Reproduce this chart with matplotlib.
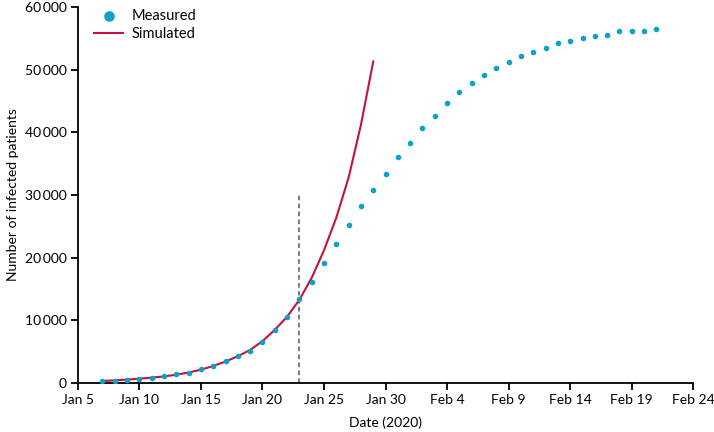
#Imports
import numpy as np
import matplotlib
matplotlib.use('Agg')
import matplotlib.pyplot as plt
import matplotlib.dates as mdates
from matplotlib.ticker import FuncFormatter

plt.rcParams['font.family'] = ['Lato', 'DejaVu Sans']

# measured cases, one per day from Jan 7 to Feb 21
measuredStart = '2020-01-07'
measured = [300, 400, 500, 700, 900, 1100, 1400, 1700, 2200, 2700,
            3500, 4300, 5200, 6600, 8500, 10600, 13400, 16200, 19100, 22200,
            25200, 28200, 30800, 33400, 36000, 38300, 40700, 42600, 44600, 46400,
            47900, 49100, 50200, 51200, 52200, 52800, 53500, 54200, 54600, 55000,
            55300, 55600, 56100, 56200, 56200, 56400]

# simulated cases, one per day from Jan 7 to Jan 29
simulatedStart = '2020-01-07'
simulated = [350, 450, 580, 720, 880, 1080, 1350, 1700, 2150, 2750,
             3450, 4300, 5300, 6700, 8500, 10600, 13300, 16800, 21200, 26400,
             32800, 41200, 51300]

cutoffDate = '2020-01-23'
cutoffTop = 30000

tickDates = ['Jan 5', 'Jan 10', 'Jan 15', 'Jan 20', 'Jan 25', 'Jan 30',
             'Feb 4', 'Feb 9', 'Feb 14', 'Feb 19', 'Feb 24']

mDates = np.datetime64(measuredStart) + np.arange(len(measured))
sDates = np.datetime64(simulatedStart) + np.arange(len(simulated))
tickPos = np.datetime64('2020-01-05') + np.arange(0, 51, 5)

fig = plt.figure(figsize=(7.14, 4.32), dpi=100)
ax = fig.add_axes([0.109, 0.113, 0.862, 0.871])

ax.plot(sDates, simulated, color='#c4123f', lw=1.5, label='Simulated', zorder=2)
ax.scatter(mDates, measured, s=16, color='#0aa2c7', label='Measured', zorder=3, linewidths=0)
ax.plot([np.datetime64(cutoffDate)] * 2, [0, cutoffTop], color='#3f5a6b', lw=1.1,
        linestyle=(0, (3, 2.2)), zorder=1)

ax.set_xlim(np.datetime64('2020-01-05'), np.datetime64('2020-02-24'))
ax.set_ylim(0, 60000)
ax.set_xticks(tickPos)
ax.set_xticklabels(tickDates)
ax.set_yticks(np.arange(0, 60001, 10000))
ax.yaxis.set_major_formatter(FuncFormatter(lambda v, p: '0' if v == 0 else '{:,}'.format(int(v)).replace(',', '\u2009')))

for s in ['top', 'right']:
  ax.spines[s].set_visible(False)
for s in ['left', 'bottom']:
  ax.spines[s].set_linewidth(1.3)
ax.tick_params(length=5, width=1.3, labelsize=10, pad=3)

ax.set_xlabel('Date (2020)', fontsize=10, labelpad=7)
ax.set_ylabel('Number of infected patients', fontsize=10, labelpad=4)

handles, labels = ax.get_legend_handles_labels()
ax.legend([handles[1], handles[0]], [labels[1], labels[0]], loc='upper left',
          bbox_to_anchor=(0.005, 1.03), frameon=False, fontsize=10.5,
          handlelength=2.0, handletextpad=0.6, labelspacing=0.3, markerscale=1.9)

plt.savefig('out.png')
